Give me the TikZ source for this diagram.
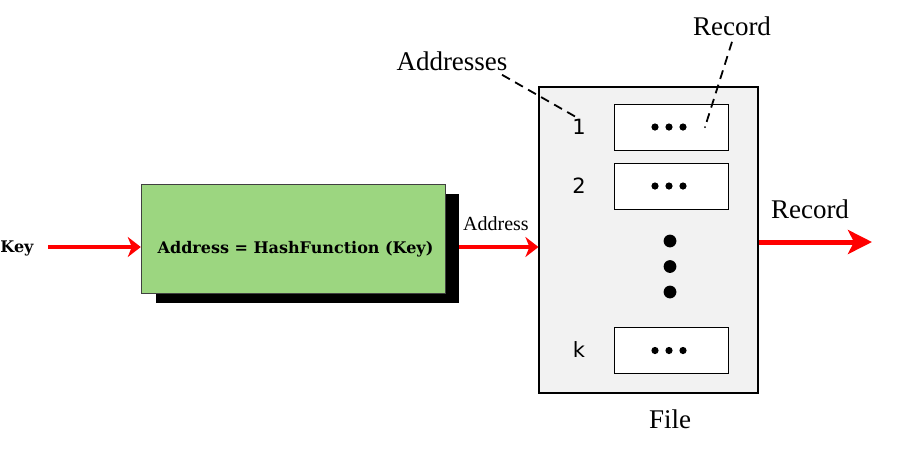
\documentclass[tikz,border=0pt]{standalone}
\usepackage{fontspec}
\setmainfont{Liberation Serif}
\newfontfamily\numfont{DejaVu Sans}
\newfontfamily\boxfont{DejaVu Serif}
\usepackage{tikz}
\usetikzlibrary{arrows.meta,positioning}
\definecolor{hashgreen}{rgb}{0.61,0.84,0.5}
\definecolor{filegray}{rgb}{0.95,0.95,0.95}

\begin{document}
\begin{tikzpicture}[line join=miter,x=1pt,y=-1pt,
    >={Stealth[length=13pt,width=20pt,inset=4pt]},
    redarrow/.style={->,color=red,line width=4pt},
    bigarrow/.style={-{Stealth[length=24pt,width=24pt,inset=6pt]},color=red,line width=5pt},
    recbox/.style={draw,fill=white,line width=1pt,minimum width=114pt,minimum height=46pt,inner sep=0pt},
    numlabel/.style={font=\numfont\fontsize{21}{24}\selectfont},
    bigtext/.style={font=\fontsize{27}{32}\selectfont,anchor=base},
    pointer/.style={dash pattern=on 9pt off 6pt,line width=1.8pt}]
    \useasboundingbox (0,0) rectangle (898,451);
    % hash function box
    \node[fill=black,minimum width=303pt,minimum height=109pt,inner sep=0pt] (shadow) at (307.5,248.5) {};
    \node[draw=darkgray,fill=hashgreen,minimum width=304pt,minimum height=109pt,inner sep=0pt] (hash) at (293,238.5) {};
    \node[font=\boxfont\bfseries\fontsize{16}{18}\selectfont,anchor=base] (hashtext) at (295.5,253) {Address = HashFunction (Key)};
    \node[font=\boxfont\bfseries\fontsize{16}{18}\selectfont,anchor=base] (key) at (17,252) {Key};
    % file
    \node[draw,fill=filegray,line width=1.1pt,minimum width=219pt,minimum height=306pt,inner sep=0pt] (file) at (648.5,240) {};
    \node[recbox] (rec1) at (671,127) {};
    \node[recbox] (rec2) at (671,186) {};
    \node[recbox] (reck) at (671,350.5) {};
    \node[numlabel] (num1) at (579,127) {1};
    \node[numlabel] (num2) at (579,186) {2};
    \node[numlabel] (numk) at (579,350) {k};
    \foreach \r in {rec1,rec2,reck}
        \foreach \dx in {-16,-2,12}
            \fill ([xshift=\dx pt]\r.center) circle (3.6pt);
    \foreach \y in {241,266.5,292}
        \fill (670,\y) circle (6.4pt);
    % labels
    \node[bigtext] (addrs) at (452,70) {Addresses};
    \node[bigtext] (rectop) at (732,35) {Record};
    \node[bigtext] (recout) at (810,218) {Record};
    \node[bigtext] (filename) at (670,428) {File};
    \node[font=\fontsize{20}{24}\selectfont,anchor=base] (addr) at (496,230) {Address};
    % arrows
    \coordinate (keystart) at (48,247);
    \coordinate (recend) at (872,242);
    \draw[redarrow] (keystart) -- (keystart -| hash.west);
    \draw[redarrow] (keystart -| shadow.east) -- (keystart -| file.west);
    \draw[bigarrow] (recend -| file.east) -- (recend);
    % pointers
    \coordinate (addrtip) at (576,117);
    \coordinate (rectip) at (705,127);
    \draw[pointer] ([xshift=-9pt,yshift=-1pt]addrs.south east) -- (addrtip);
    \draw[pointer] ([yshift=-3pt]rectop.south) -- (rectip);
    \fill (rectip) circle (1pt);
\end{tikzpicture}
\end{document}
